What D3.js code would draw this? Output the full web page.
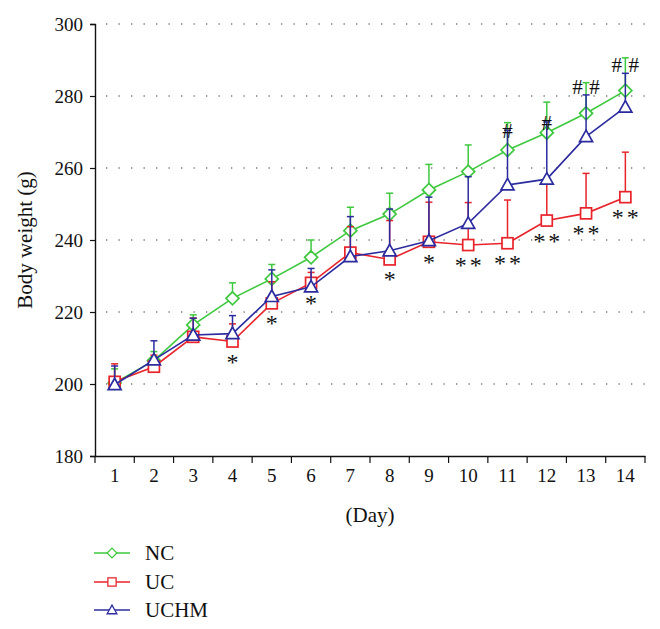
<!DOCTYPE html>
<html><head><meta charset="utf-8">
<script src="https://cdn.jsdelivr.net/npm/d3@7/dist/d3.min.js"></script>
<style>body{margin:0;background:#fff}svg{display:block}text{font-family:"Liberation Serif","Times New Roman",serif;fill:#111}</style>
</head><body><svg id="c" width="660" height="629"></svg>
<script>
const days = [1,2,3,4,5,6,7,8,9,10,11,12,13,14];
const yTicks = [180,200,220,240,260,280,300];
const ncMean = [200.3,206.5,216.4,223.8,229.2,235.2,242.6,247.2,253.9,259.0,265.0,269.8,275.2,281.5];
const ncTop  = [204.2,209.0,219.2,228.1,233.2,240.0,249.1,253.0,261.0,266.4,272.6,278.3,283.7,290.6];
const ucMean = [200.6,204.8,213.1,211.8,222.4,228.1,236.5,234.6,239.5,238.6,239.1,245.4,247.4,251.9];
const ucTop  = [205.6,208.0,218.3,216.7,228.4,231.0,243.7,245.4,250.5,250.4,251.1,257.0,258.5,264.4];
const uchmMean = [199.8,206.7,213.6,214.0,224.3,227.0,235.4,237.0,239.8,244.6,255.3,256.9,268.7,276.9];
const uchmTop  = [205.0,212.0,218.3,219.0,231.7,232.1,246.5,248.6,251.9,257.6,270.5,272.8,280.3,286.3];
const ucStars = ["","","","*","*","*","","*","*","**","**","**","**","**"];
const uchmHash = ["","","","","","","","","","","#","#","##","##"];
const seriesNames = ["NC","UC","UCHM"];

const svg = d3.select("#c");
const x = d3.scaleBand().domain(days).range([95,645]);
const y = d3.scaleLinear().domain([180,300]).range([456,24]);
const cx = d => x(d) + x.bandwidth()/2;
const colors = {NC:"#3ec83e", UC:"#e8242a", UCHM:"#2b2b9f"};

// grid
svg.append("g").selectAll("line").data(yTicks.filter(t=>t>180)).join("line")
  .attr("x1",106).attr("x2",645).attr("y1",d=>y(d)).attr("y2",d=>y(d))
  .attr("stroke","#333").attr("stroke-width",1.1).attr("stroke-dasharray","1.3 11.2");

// y axis
const yAxis = svg.append("g").attr("transform","translate(95,0)")
  .call(d3.axisLeft(y).tickValues(yTicks).tickSize(5).tickPadding(7));
yAxis.select(".domain").attr("stroke","#111").attr("stroke-width",1.4);
yAxis.selectAll(".tick line").attr("stroke","#111").attr("stroke-width",1.2);
yAxis.selectAll("text").attr("font-size",19).attr("font-family","Liberation Serif").attr("fill","#111");

// x axis
const xAxis = svg.append("g").attr("transform","translate(0,456)")
  .call(d3.axisBottom(x).tickSize(0).tickPadding(13));
xAxis.select(".domain").attr("stroke","#111").attr("stroke-width",1.4);
xAxis.selectAll("text").attr("font-size",19).attr("font-family","Liberation Serif").attr("fill","#111");
svg.append("g").selectAll("line").data(d3.range(days.length+1)).join("line")
  .attr("x1",i=>95+i*x.bandwidth()).attr("x2",i=>95+i*x.bandwidth())
  .attr("y1",456).attr("y2",463).attr("stroke","#111").attr("stroke-width",1.2);

// axis titles
svg.append("text").attr("transform","translate(32,240) rotate(-90)")
  .attr("text-anchor","middle").attr("font-size",21).text("Body weight (g)");
svg.append("text").attr("x",370).attr("y",522).attr("text-anchor","middle")
  .attr("font-size",21).text("(Day)");

function marker(g, name, px, py){
  const c = colors[name];
  if(name==="NC"){
    g.append("path").attr("d",`M${px},${py-6.5}L${px+6.5},${py}L${px},${py+6.5}L${px-6.5},${py}Z`)
      .attr("fill","#fff").attr("stroke",c).attr("stroke-width",1.7);
  } else if(name==="UC"){
    g.append("rect").attr("x",px-5.5).attr("y",py-5.5).attr("width",11).attr("height",11)
      .attr("fill","#fff").attr("stroke",c).attr("stroke-width",1.7);
  } else {
    g.append("path").attr("d",`M${px},${py-6.5}L${px+6.5},${py+5}L${px-6.5},${py+5}Z`)
      .attr("fill","#fff").attr("stroke",c).attr("stroke-width",1.7);
  }
}

const series = [
  {name:"NC", mean:ncMean, top:ncTop},
  {name:"UC", mean:ucMean, top:ucTop},
  {name:"UCHM", mean:uchmMean, top:uchmTop}
];

series.forEach(s=>{
  const g = svg.append("g");
  const c = colors[s.name];
  days.forEach((d,i)=>{
    g.append("line").attr("x1",cx(d)).attr("x2",cx(d)).attr("y1",y(s.mean[i])).attr("y2",y(s.top[i]))
      .attr("stroke",c).attr("stroke-width",1.5);
    g.append("line").attr("x1",cx(d)-3.5).attr("x2",cx(d)+3.5).attr("y1",y(s.top[i])).attr("y2",y(s.top[i]))
      .attr("stroke",c).attr("stroke-width",1.5);
  });
  const line = d3.line().x((v,i)=>cx(days[i])).y(v=>y(v));
  g.append("path").attr("d",line(s.mean)).attr("fill","none").attr("stroke",c).attr("stroke-width",1.6);
  days.forEach((d,i)=>marker(g, s.name, cx(d), y(s.mean[i])));
});

// significance marks
const ann = svg.append("g");
days.forEach((d,i)=>{
  const st = ucStars[i];
  const offs = st.length===1 ? [0] : st.length===2 ? [-7.5,7.5] : [];
  offs.forEach(o=>ann.append("text").attr("x",cx(d)+o).attr("y",y(ucMean[i])+28)
      .attr("text-anchor","middle").attr("font-size",24).attr("fill","#333").text("*"));
  const h = uchmHash[i];
  if(h.length===1){
    ann.append("text").attr("x",cx(d)).attr("y",y(uchmTop[i])+8).attr("text-anchor","middle")
      .attr("font-size",21).text("#");
  } else if(h.length===2){
    [-8.5,8.5].forEach(o=>ann.append("text").attr("x",cx(d)+o).attr("y",y(uchmTop[i])-1)
      .attr("text-anchor","middle").attr("font-size",21).text("#"));
  }
});

// legend
const lg = svg.append("g");
const legY = [553,582,610];
seriesNames.forEach((n,i)=>{
  lg.append("line").attr("x1",94).attr("x2",130).attr("y1",legY[i]).attr("y2",legY[i])
    .attr("stroke",colors[n]).attr("stroke-width",1.6);
  const gm = lg.append("g").attr("transform",`translate(${112},${legY[i]}) scale(0.75) translate(${-112},${-legY[i]})`);
  marker(gm, n, 112, legY[i]);
  lg.append("text").attr("x",145).attr("y",legY[i]+7).attr("font-size",21).text(n);
});
</script></body></html>
